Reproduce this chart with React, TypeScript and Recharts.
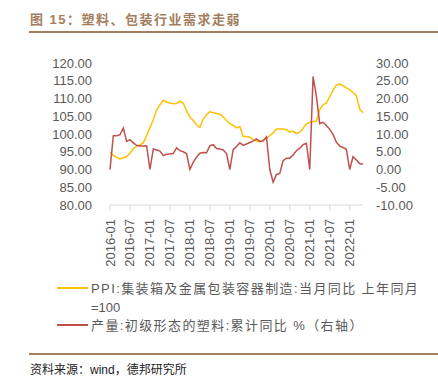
import React from "react";
import { LineChart, Line, XAxis, YAxis } from "recharts";

// monthly, 2016-01 .. 2022-05
const startYear = 2016;
const monthCount = 77;

const ppiValues = [
  94.8, 94.0, 93.4, 93.0, 93.3, 93.6, 94.6, 95.9, 96.5, 96.9, 97.5, 99.5,
  101.8, 104.0, 106.8, 108.2, 109.5, 109.0, 108.7, 108.5, 108.6, 109.2, 108.7, 106.5,
  104.8, 103.8, 102.6, 101.9, 104.2, 105.4, 106.3, 106.0, 105.8, 105.6, 104.8, 103.8,
  102.9, 102.4, 101.7, 102.1, 99.3, 99.3, 99.1, 98.4, 98.0, 97.9, 98.1, 98.8,
  99.5, 100.3, 101.4, 101.4, 101.4, 101.2, 100.5, 100.8, 100.1, 100.5, 101.6, 102.8,
  103.3, 103.5, 103.6, 106.8, 108.3, 108.7, 110.5, 112.3, 113.8, 114.1, 113.6, 113.0,
  112.5, 111.7, 110.8, 107.0, 106.0,
];

const plasticValues = [
  0, 9.5, 9.5, 9.8, 11.7, 7.9, 8.4, 7.5, 6.8, 6.6, 6.6, 6.7,
  0, 5.8, 5.5, 5.2, 3.9, 4.3, 4.4, 4.5, 6.1, 5.3, 5.0, 4.5,
  0, 2.0, 3.5, 4.6, 4.8, 4.7, 6.7, 7.0, 5.9, 5.8, 5.5, 4.5,
  0, 5.6, 6.5, 7.5, 6.8, 7.2, 7.6, 8.0, 8.6, 7.9, 8.1, 9.2,
  0, -3.6, -1.4, -1.1, 2.5, 3.2, 3.2, 4.1, 5.3, 6.0, 7.0, 7.4,
  0, 26.2, 20.6, 12.9, 13.3, 12.4, 11.3, 9.9, 7.7, 6.6, 6.2, 5.7,
  0, 3.6, 2.7, 1.7, 1.5,
];

const leftTicks = [80, 85, 90, 95, 100, 105, 110, 115, 120];
const rightTicks = [-10, -5, 0, 5, 10, 15, 20, 25, 30];

const ppiName = "PPI:集装箱及金属包装容器制造:当月同比 上年同月";
const ppiNameTail = "=100";
const plasticName = "产量:初级形态的塑料:累计同比 %（右轴）";

const months: string[] = [];
for (let i = 0; i < monthCount; i++) {
  const y = startYear + Math.floor(i / 12);
  const m = (i % 12) + 1;
  months.push(`${y}-${m < 10 ? "0" + m : m}`);
}

const data = months.map((month, i) => ({
  month,
  ppi: ppiValues[i],
  plastic: plasticValues[i],
}));

const axisFont = "'Liberation Sans', Arial, sans-serif";
const cjkFont = "'Liberation Sans', 'Noto Sans CJK SC', sans-serif";
const gray = "#595959";
const brown = "#A47E5C";

const MonthTick = (props: any) => {
  const { x, y, payload } = props;
  return (
    <text
      x={x}
      y={y + 7}
      transform={`rotate(-90, ${x}, ${y + 7})`}
      textAnchor="end"
      dominantBaseline="central"
      fill={gray}
      fontSize={13}
      fontFamily={axisFont}
    >
      {payload.value}
    </text>
  );
};

const LegendRow = ({ color, children, top }: any) => (
  <div style={{ position: "absolute", left: 57, top, display: "flex" }}>
    <div
      style={{
        width: 31,
        height: 2,
        background: color,
        marginTop: 8,
        marginRight: 3,
        flexShrink: 0,
      }}
    />
    <div style={{ lineHeight: "19px" }}>{children}</div>
  </div>
);

export default function App() {
  return (
    <div
      style={{
        position: "absolute",
        left: 0,
        top: 0,
        width: 438,
        height: 376,
        background: "#fff",
        overflow: "hidden",
        fontFamily: cjkFont,
      }}
    >
      <div
        style={{
          position: "absolute",
          left: 30,
          top: 9,
          fontSize: 13,
          fontWeight: 600,
          color: brown,
          letterSpacing: 1.5,
          whiteSpace: "nowrap",
        }}
      >
        图 15：塑料、包装行业需求走弱
      </div>
      <div
        style={{
          position: "absolute",
          left: 29,
          top: 31,
          width: 409,
          height: 2,
          background: brown,
        }}
      />

      <div style={{ position: "absolute", left: 0, top: 0 }}>
        <LineChart
          width={438}
          height={280}
          data={data}
          margin={{ top: 63, right: 0, bottom: 15, left: 0 }}
        >
          <XAxis
            dataKey="month"
            interval={5}
            height={60}
            tick={<MonthTick />}
            tickSize={5}
            axisLine={{ stroke: "#D9D9D9" }}
            tickLine={{ stroke: "#D9D9D9" }}
          />
          <YAxis
            yAxisId="left"
            orientation="left"
            width={110}
            domain={[80, 120]}
            ticks={leftTicks}
            interval={0}
            tickFormatter={(v: number) => v.toFixed(2)}
            axisLine={false}
            tickLine={false}
            tickSize={0}
            tickMargin={18}
            tick={{ fill: gray, fontSize: 13, fontFamily: axisFont }}
          />
          <YAxis
            yAxisId="right"
            orientation="right"
            width={75}
            domain={[-10, 30]}
            ticks={rightTicks}
            interval={0}
            tickFormatter={(v: number) => v.toFixed(2)}
            axisLine={false}
            tickLine={false}
            tickSize={0}
            tickMargin={13}
            tick={{ fill: gray, fontSize: 13, fontFamily: axisFont }}
          />
          <Line
            yAxisId="left"
            dataKey="ppi"
            stroke="#FFC000"
            strokeWidth={1.5}
            dot={false}
            isAnimationActive={false}
          />
          <Line
            yAxisId="right"
            dataKey="plastic"
            stroke="#C0504D"
            strokeWidth={1.5}
            dot={false}
            isAnimationActive={false}
          />
        </LineChart>
      </div>

      <div style={{ fontSize: 13, color: gray }}>
        <LegendRow color="#FFC000" top={279}>
          <span style={{ letterSpacing: 1.4 }}>{ppiName}</span>
          <br />
          {ppiNameTail}
        </LegendRow>
        <LegendRow color="#C0504D" top={316}>
          <span style={{ letterSpacing: 1.4 }}>{plasticName}</span>
        </LegendRow>
      </div>

      <div
        style={{
          position: "absolute",
          left: 29,
          top: 353,
          width: 409,
          height: 2,
          background: brown,
        }}
      />
      <div
        style={{
          position: "absolute",
          left: 30,
          top: 360,
          fontSize: 12,
          color: "#222",
          whiteSpace: "nowrap",
        }}
      >
        资料来源：wind，德邦研究所
      </div>
    </div>
  );
}
